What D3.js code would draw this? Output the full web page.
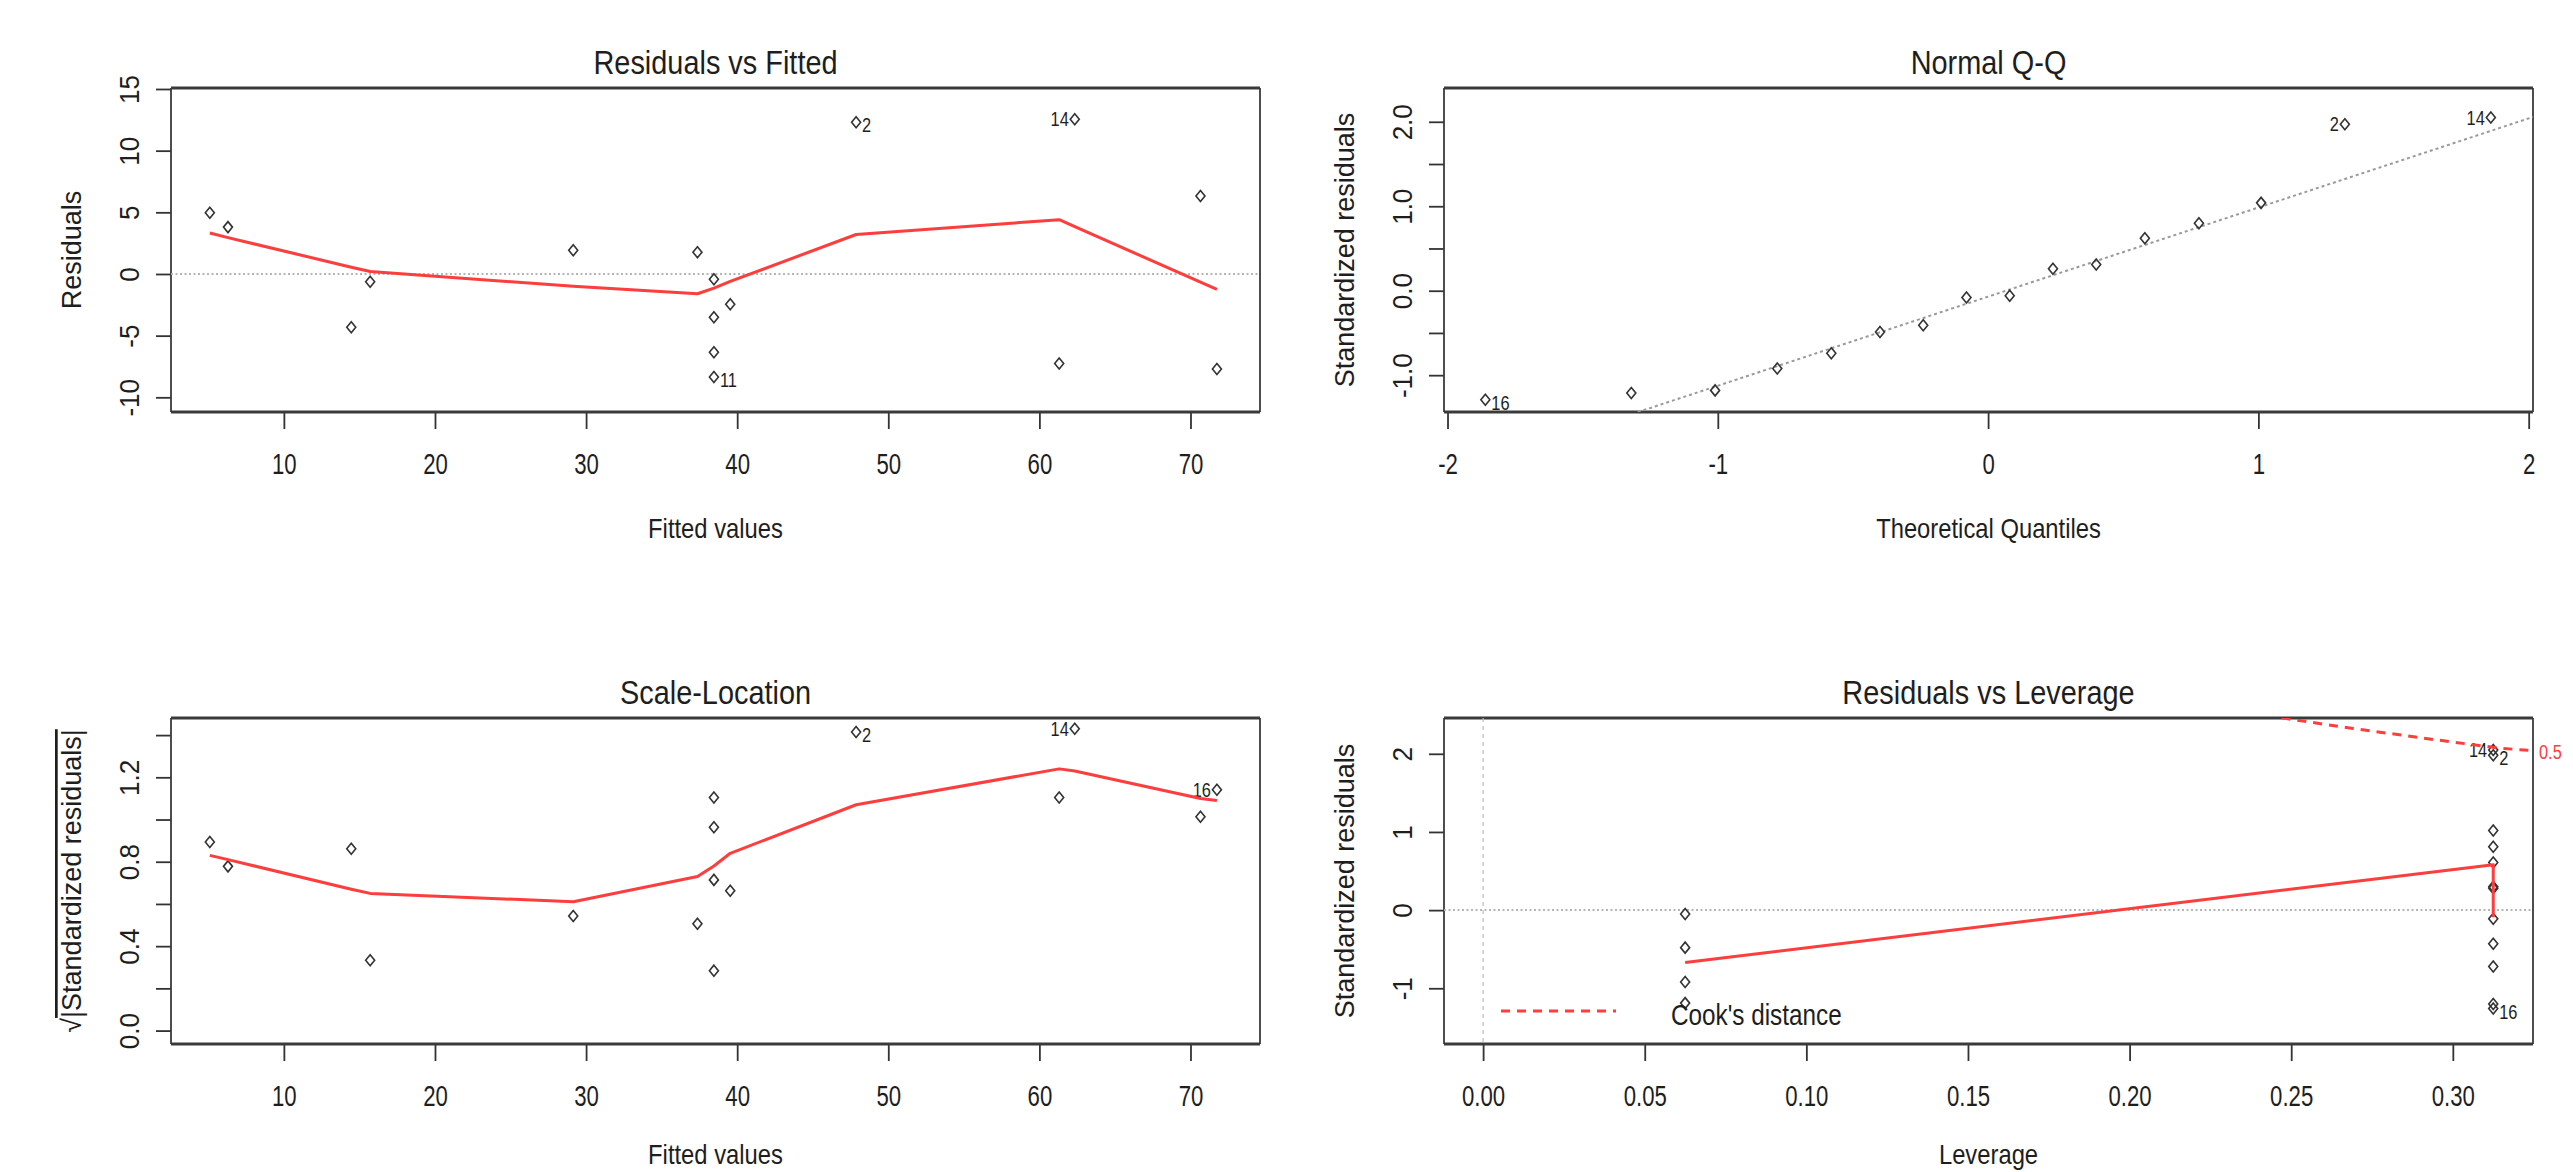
<!DOCTYPE html>
<meta charset="utf-8">
<style>
  body { margin: 0; background: #fff; }
  svg { display: block; background: #fff; }
  text { font-family: "Liberation Sans", Arial, sans-serif; fill: #1e1e1e; }
</style>
<svg width="2573" height="1172"></svg>
<script src="https://d3js.org/d3.v7.min.js"></script>
<script>
  // ---- Residuals vs Fitted ----
  var rvfFitted = [5.1, 6.3, 14.46, 15.71, 29.15, 37.37, 38.46, 38.46, 39.54, 38.46, 38.46, 47.87, 62.34, 61.31, 70.66, 71.75];
  var rvfResid = [4.97, 3.8, -4.31, -0.63, 1.92, 1.77, -0.42, -3.5, -2.46, -6.35, -8.35, 12.3, 12.54, -7.25, 6.32, -7.7];
  var rvfIds = ["", "", "", "", "", "", "", "", "", "", "11", "2", "14", "", "", ""];
  var smoothFitted = [5.1, 6.3, 14.46, 15.71, 29.15, 37.37, 38.46, 39.54, 47.87, 61.31, 62.34, 70.66, 71.75];
  var rvfSmooth = [3.32, 2.95, 0.55, 0.2, -1.0, -1.6, -1.15, -0.6, 3.2, 4.4, 3.84, -0.66, -1.25];

  // ---- Normal Q-Q ----
  var qqTheo = [-1.86, -1.32, -1.01, -0.78, -0.58, -0.40, -0.24, -0.08, 0.08, 0.24, 0.40, 0.58, 0.78, 1.01, 1.32, 1.86];
  var qqStd = [-1.29, -1.21, -1.18, -0.92, -0.74, -0.49, -0.41, -0.08, -0.06, 0.26, 0.31, 0.62, 0.80, 1.04, 1.97, 2.05];
  var qqIds = ["16", "", "", "", "", "", "", "", "", "", "", "", "", "", "2", "14"];
  var qqLine = { intercept: -0.07, slope: 1.055 };

  // ---- Scale-Location (same fitted values as above) ----
  var slRoot = [0.894, 0.778, 0.862, 0.333, 0.543, 0.506, 0.284, 0.714, 0.662, 0.963, 1.104, 1.415, 1.43, 1.104, 1.013, 1.141];
  var slIds = ["", "", "", "", "", "", "", "", "", "", "", "2", "14", "", "", "16"];
  var slSmooth = [0.83, 0.81, 0.67, 0.65, 0.61, 0.73, 0.78, 0.84, 1.07, 1.24, 1.23, 1.10, 1.09];

  // ---- Residuals vs Leverage ----
  var levH = [0.0625, 0.0625, 0.0625, 0.0625, 0.3125, 0.3125, 0.3125, 0.3125, 0.3125, 0.3125, 0.3125, 0.3125, 0.3125, 0.3125, 0.3125, 0.3125];
  var levStd = [-0.05, -0.48, -0.92, -1.19, 2.05, 1.98, 1.02, 0.81, 0.61, 0.30, 0.28, -0.11, -0.43, -0.72, -1.20, -1.26];
  var levIds = ["", "", "", "", "14", "2", "", "", "", "", "", "", "", "", "", "16"];
  var levSmoothH = [0.0625, 0.3125, 0.3125];
  var levSmooth = [-0.67, 0.58, -0.09];
  var cookH = [0.247, 0.268, 0.284, 0.299, 0.315, 0.325];
  var cookStd = [2.46, 2.33, 2.24, 2.155, 2.07, 2.04];

  // ---- tick values ----
  var fittedTicks = [10, 20, 30, 40, 50, 60, 70];
  var residTicks = [-10, -5, 0, 5, 10, 15];
  var qqXTicks = [-2, -1, 0, 1, 2];
  var qqYTicks = [-1, -0.5, 0, 0.5, 1, 1.5, 2];
  var slYTicks = [0, 0.2, 0.4, 0.6, 0.8, 1.0, 1.2, 1.4];
  var levXTicks = [0, 0.05, 0.10, 0.15, 0.20, 0.25, 0.30];
  var levYTicks = [-1, 0, 1, 2];

  // labels that sit to the left of their point
  var leftLabels = { rvf: ["14"], qq: ["2", "14"], sl: ["14", "16"], lev: ["14"] };

  var svg = d3.select("svg");
  var height = +svg.attr("height");
  var red = "#ff3d3d";
  var cols = [[171, 1260], [1444, 2533]],
    rows = [[88, 412], [718, 1044]];

  var diamond = {
    draw: function(context, size) {
      var h = Math.sqrt(size) / 2, w = h * 0.82;
      context.moveTo(0, -h);
      context.lineTo(w, 0);
      context.lineTo(0, h);
      context.lineTo(-w, 0);
      context.closePath();
    }
  };
  var pointPath = d3.symbol().type(diamond).size(121)();

  function label(g, x, y, str, size, sx, anchor, rot) {
    return g.append("text")
      .attr("transform", "translate(" + x + "," + y + ")" + (rot ? " rotate(" + rot + ")" : "") + " scale(" + sx + ",1)")
      .attr("text-anchor", anchor)
      .attr("font-size", size)
      .text(str);
  }

  function panel(o) {
    var b = { left: o.col[0], right: o.col[1], top: o.row[0], bottom: o.row[1] };
    var g = svg.append("g");
    var x = d3.scaleLinear().domain(o.xDomain).range([b.left, b.right]),
      y = d3.scaleLinear().domain(o.yDomain).range([b.bottom, b.top]);

    g.append("clipPath").attr("id", o.id + "-clip")
      .append("rect")
      .attr("x", b.left).attr("y", b.top)
      .attr("width", b.right - b.left).attr("height", b.bottom - b.top);

    var xAxis = d3.axisBottom(x).tickValues(o.xTicks).tickSize(17).tickPadding(24).tickFormat(o.xFormat);
    var yAxis = d3.axisLeft(y).tickValues(o.yTicks).tickSize(15).tickFormat(o.yFormat);

    g.append("g")
      .attr("transform", "translate(0," + b.bottom + ")")
      .call(xAxis)
      .call(function(a) {
        a.select(".domain").remove();
        a.selectAll(".tick line").attr("stroke", "#333").attr("stroke-width", 1.8);
        a.selectAll(".tick text").attr("font-size", 30).attr("transform", "scale(0.74,1)");
      });

    g.append("g")
      .attr("transform", "translate(" + b.left + ",0)")
      .call(yAxis)
      .call(function(a) {
        a.select(".domain").remove();
        a.selectAll(".tick line").attr("stroke", "#333").attr("stroke-width", 1.8);
        a.selectAll(".tick text")
          .attr("x", 0).attr("y", 0).attr("dy", 0)
          .attr("text-anchor", "middle")
          .attr("font-size", 28)
          .attr("transform", "translate(-32,0) rotate(-90) scale(0.93,1)");
      });

    // frame: top and bottom edges print heavier than the sides
    g.append("line").attr("x1", b.left).attr("x2", b.right).attr("y1", b.top).attr("y2", b.top)
      .attr("stroke", "#3a3a3a").attr("stroke-width", 3);
    g.append("line").attr("x1", b.left).attr("x2", b.right).attr("y1", b.bottom).attr("y2", b.bottom)
      .attr("stroke", "#3a3a3a").attr("stroke-width", 3);
    g.append("line").attr("x1", b.left).attr("x2", b.left).attr("y1", b.top).attr("y2", b.bottom)
      .attr("stroke", "#3a3a3a").attr("stroke-width", 1.8);
    g.append("line").attr("x1", b.right).attr("x2", b.right).attr("y1", b.top).attr("y2", b.bottom)
      .attr("stroke", "#3a3a3a").attr("stroke-width", 1.8);

    var cx = (b.left + b.right) / 2, cy = (b.top + b.bottom) / 2;
    label(g, cx, b.top - 14, o.title, 34, 0.85, "middle");
    // keep the bottom-row axis titles (and their descenders) inside the page
    label(g, cx, Math.min(b.bottom + 126, height - 8), o.xTitle, 28, 0.85, "middle");
    if (o.yTitle) label(g, b.left - 90, cy, o.yTitle, 27, 1, "middle", -90);

    return { g: g, x: x, y: y, b: b, clip: "url(#" + o.id + "-clip)" };
  }

  function refLine(p, y0) {
    p.g.append("line")
      .attr("x1", p.b.left).attr("x2", p.b.right)
      .attr("y1", p.y(y0)).attr("y2", p.y(y0))
      .attr("stroke", "#b5b5b5").attr("stroke-width", 2).attr("stroke-dasharray", "2,2.5");
  }

  function smoothLine(p, xs, ys) {
    p.g.append("path")
      .datum(d3.range(xs.length))
      .attr("fill", "none").attr("stroke", red).attr("stroke-width", 3)
      .attr("stroke-linejoin", "round")
      .attr("clip-path", p.clip)
      .attr("d", d3.line().x(function(i) { return p.x(xs[i]); }).y(function(i) { return p.y(ys[i]); }));
  }

  function points(p, xs, ys, ids, lefts) {
    p.g.selectAll(".pt")
      .data(d3.range(xs.length))
      .enter().append("path")
      .attr("class", "pt")
      .attr("d", pointPath)
      .attr("transform", function(i) { return "translate(" + p.x(xs[i]) + "," + p.y(ys[i]) + ")"; })
      .attr("fill", "none").attr("stroke", "#333").attr("stroke-width", 1.6);

    d3.range(xs.length).forEach(function(i) {
      if (!ids[i]) return;
      var left = lefts.indexOf(ids[i]) >= 0;
      label(p.g, p.x(xs[i]) + (left ? -6 : 6), p.y(ys[i]) + (left ? 7 : 10), ids[i], 21, 0.78, left ? "end" : "start");
    });
  }

  var oneDec = function(d) { return Number.isInteger(d) ? d.toFixed(1) : ""; };

  // 1: Residuals vs Fitted
  var p1 = panel({
    id: "rvf", col: cols[0], row: rows[0],
    xDomain: [2.53, 74.6], yDomain: [-11.19, 15.08],
    xTicks: fittedTicks, yTicks: residTicks,
    xFormat: String, yFormat: String,
    title: "Residuals vs Fitted", xTitle: "Fitted values", yTitle: "Residuals"
  });
  refLine(p1, 0);
  points(p1, rvfFitted, rvfResid, rvfIds, leftLabels.rvf);
  smoothLine(p1, smoothFitted, rvfSmooth);

  // 2: Normal Q-Q
  var p2 = panel({
    id: "qq", col: cols[1], row: rows[0],
    xDomain: [-2.013, 2.016], yDomain: [-1.436, 2.40],
    xTicks: qqXTicks, yTicks: qqYTicks,
    xFormat: String, yFormat: oneDec,
    title: "Normal Q-Q", xTitle: "Theoretical Quantiles", yTitle: "Standardized residuals"
  });
  var qx = p2.x.domain();
  p2.g.append("line")
    .attr("x1", p2.x(qx[0])).attr("y1", p2.y(qqLine.intercept + qqLine.slope * qx[0]))
    .attr("x2", p2.x(qx[1])).attr("y2", p2.y(qqLine.intercept + qqLine.slope * qx[1]))
    .attr("stroke", "#9a9a9a").attr("stroke-width", 2).attr("stroke-dasharray", "3,3")
    .attr("clip-path", p2.clip);
  points(p2, qqTheo, qqStd, qqIds, leftLabels.qq);

  // 3: Scale-Location
  var p3 = panel({
    id: "sl", col: cols[0], row: rows[1],
    xDomain: [2.53, 74.6], yDomain: [-0.0636, 1.481],
    xTicks: fittedTicks, yTicks: slYTicks,
    xFormat: String,
    yFormat: function(d) { return Math.round(d * 10) % 4 === 0 ? d.toFixed(1) : ""; },
    title: "Scale-Location", xTitle: "Fitted values", yTitle: null
  });
  var slTitle = p3.g.append("text")
    .attr("transform", "translate(" + (p3.b.left - 90) + "," + ((p3.b.top + p3.b.bottom) / 2) + ") rotate(-90)")
    .attr("text-anchor", "middle")
    .attr("font-size", 27);
  slTitle.append("tspan").text("\u221A");
  slTitle.append("tspan").style("text-decoration", "overline").text("|Standardized residuals|");
  points(p3, rvfFitted, slRoot, slIds, leftLabels.sl);
  smoothLine(p3, smoothFitted, slSmooth);

  // 4: Residuals vs Leverage
  var p4 = panel({
    id: "lev", col: cols[1], row: rows[1],
    xDomain: [-0.0121, 0.3248], yDomain: [-1.713, 2.458],
    xTicks: levXTicks, yTicks: levYTicks,
    xFormat: d3.format(".2f"), yFormat: String,
    title: "Residuals vs Leverage", xTitle: "Leverage", yTitle: "Standardized residuals"
  });
  refLine(p4, 0);
  p4.g.append("line")
    .attr("x1", p4.x(0)).attr("x2", p4.x(0))
    .attr("y1", p4.b.top).attr("y2", p4.b.bottom)
    .attr("stroke", "#bdbdbd").attr("stroke-width", 1.2).attr("stroke-dasharray", "4,4");
  points(p4, levH, levStd, levIds, leftLabels.lev);
  smoothLine(p4, levSmoothH, levSmooth);
  p4.g.append("path")
    .datum(d3.range(cookH.length))
    .attr("fill", "none").attr("stroke", red).attr("stroke-width", 3).attr("stroke-dasharray", "9,7")
    .attr("clip-path", p4.clip)
    .attr("d", d3.line().x(function(i) { return p4.x(cookH[i]); }).y(function(i) { return p4.y(cookStd[i]); }));
  label(p4.g, p4.b.right + 6, p4.y(cookStd[cookStd.length - 1]) + 8, "0.5", 21, 0.78, "start")
    .style("fill", red);

  // legend
  p4.g.append("line")
    .attr("x1", p4.b.left + 57).attr("x2", p4.b.left + 172)
    .attr("y1", p4.b.bottom - 33).attr("y2", p4.b.bottom - 33)
    .attr("stroke", red).attr("stroke-width", 3).attr("stroke-dasharray", "9,7");
  label(p4.g, p4.b.left + 227, p4.b.bottom - 19, "Cook's distance", 30, 0.81, "start");
</script>
